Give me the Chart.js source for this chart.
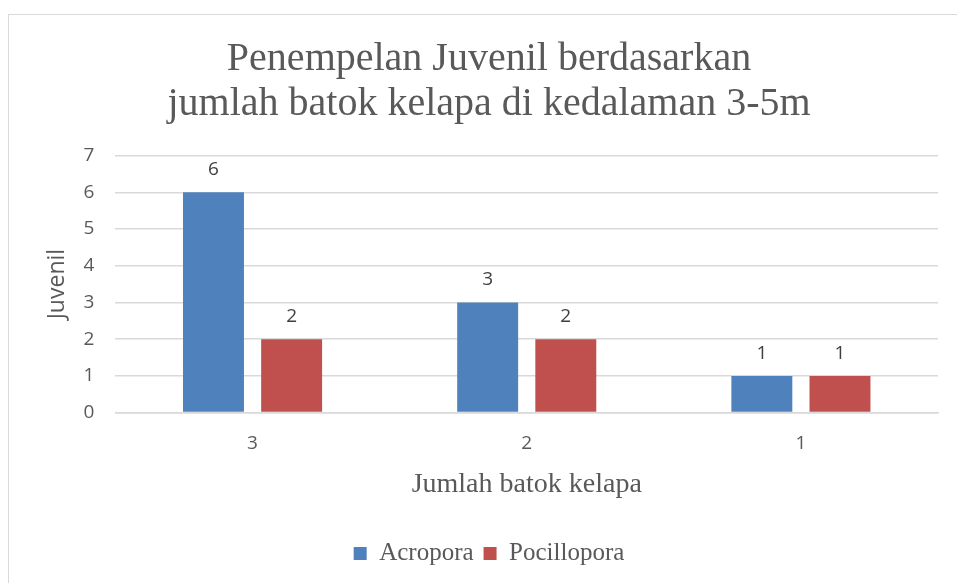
<!DOCTYPE html>
<html>
<head>
<meta charset="utf-8">
<script src="https://cdn.jsdelivr.net/npm/chart.js@4/dist/chart.umd.min.js"></script>
<style>
  html,body{margin:0;padding:0;background:#fff;overflow:hidden}
  #wrap{position:relative;width:957px;height:583px}
  #frame{position:absolute;left:8px;top:14px;width:1000px;height:700px;border:1px solid #d9d9d9;box-sizing:border-box}
  canvas{position:absolute;left:0;top:0}
</style>
</head>
<body>
<div id="wrap">
  <div id="frame"></div>
  <canvas id="c" width="957" height="583"></canvas>
</div>
<script>
const categories = ['3', '2', '1']
const acropora = [6, 3, 1]
const pocillopora = [2, 2, 1]
const titleLines = ['Penempelan Juvenil berdasarkan', 'jumlah batok kelapa di kedalaman 3-5m']

const serif = '"Liberation Serif", serif'
const sans = '"Open Sans", "Liberation Sans", sans-serif'
const grey = '#595959'

// value labels above each bar
const barLabels = {
  id:'barLabels',
  afterDatasetsDraw(chart){
    const ctx = chart.ctx
    ctx.save()
    ctx.font = '19px ' + sans
    ctx.fillStyle = '#404040'
    ctx.textAlign = 'center'
    ctx.textBaseline = 'bottom'
    chart.data.datasets.forEach((ds,i)=>{
      chart.getDatasetMeta(i).data.forEach((bar,j)=>{
        ctx.fillText(ds.data[j], bar.x, bar.y - 13)
      })
    })
    ctx.restore()
  }
}

new Chart(document.getElementById('c'), {
  type:'bar',
  data:{
    labels:categories,
    datasets:[
      {label:'Acropora', data:acropora, backgroundColor:'#4f81bd'},
      {label:'Pocillopora', data:pocillopora, backgroundColor:'#c0504d'}
    ]
  },
  options:{
    responsive:false,
    animation:false,
    categoryPercentage:0.57,
    barPercentage:0.78,
    layout:{padding:{left:40, right:19, top:37, bottom:7}},
    plugins:{
      title:{display:true, text:titleLines, color:grey, font:{family:serif, size:40, weight:'normal', lineHeight:1.12}, padding:{top:0, bottom:29}},
      legend:{position:'bottom', labels:{color:grey, font:{family:serif, size:25}, boxWidth:13, boxHeight:13, padding:10}},
      tooltip:{enabled:false}
    },
    scales:{
      x:{
        grid:{display:false, drawTicks:false},
        border:{color:'#d9d9d9', width:1.5},
        ticks:{color:grey, font:{family:sans, size:19}, padding:20},
        title:{display:true, text:'Jumlah batok kelapa', color:grey, font:{family:serif, size:28}, padding:{top:-8, bottom:30}}
      },
      y:{
        min:0, max:7,
        grid:{color:'#d9d9d9', lineWidth:1.5, drawTicks:false},
        border:{display:false},
        ticks:{stepSize:1, color:grey, font:{family:sans, size:19}, padding:21},
        title:{display:true, text:'Juvenil', color:grey, font:{family:sans, size:23}, padding:{top:4, bottom:-9}}
      }
    }
  },
  plugins:[barLabels]
})
</script>
</body>
</html>
